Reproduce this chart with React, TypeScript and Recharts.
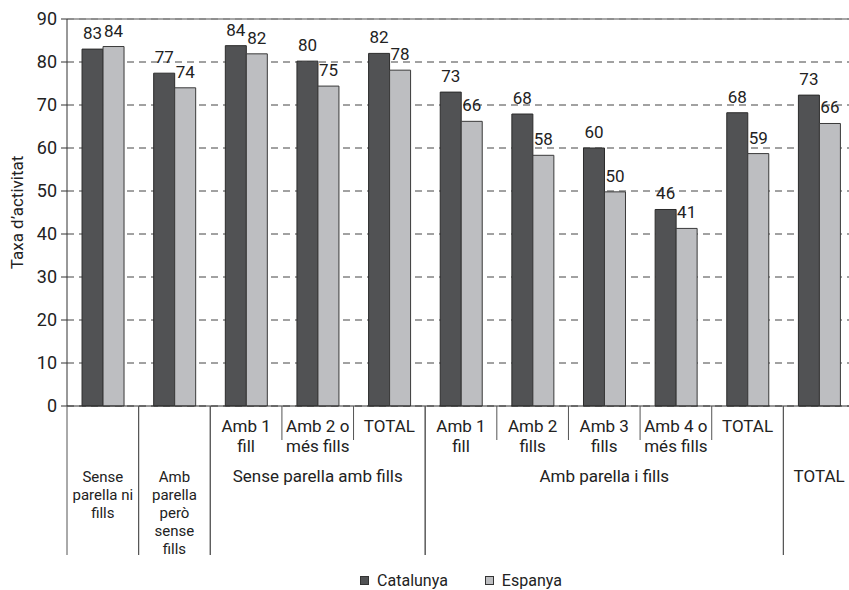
import {
  Bar,
  BarChart,
  CartesianGrid,
  LabelList,
  Legend,
  ReferenceLine,
  XAxis,
  YAxis,
} from "recharts";

const groupNames = [
  ["Sense", "parella ni", "fills"],
  ["Amb", "parella", "però", "sense", "fills"],
  ["Sense parella amb fills"],
  ["Amb parella i fills"],
  ["TOTAL"],
];
const groupSizes = [1, 1, 3, 5, 1];
const subLabels = [
  [],
  [],
  ["Amb 1", "fill"],
  ["Amb 2 o", "més fills"],
  ["TOTAL"],
  ["Amb 1", "fill"],
  ["Amb 2", "fills"],
  ["Amb 3", "fills"],
  ["Amb 4 o", "més fills"],
  ["TOTAL"],
  [],
];
const catalunya = [83.0, 77.4, 83.8, 80.2, 82.0, 73.0, 67.9, 60.0, 45.7, 68.2, 72.3];
const espanya = [83.6, 74.0, 81.9, 74.4, 78.1, 66.2, 58.3, 49.8, 41.3, 58.7, 65.7];
const catalunyaLabels = ["83", "77", "84", "80", "82", "73", "68", "60", "46", "68", "73"];
const espanyaLabels = ["84", "74", "82", "75", "78", "66", "58", "50", "41", "59", "66"];
const yTicks = [0, 10, 20, 30, 40, 50, 60, 70, 80, 90];
const seriesNames = ["Catalunya", "Espanya"];
const seriesColors = ["#515254", "#bdbec1"];

const FONT = "Roboto, 'Liberation Sans', Arial, sans-serif";
const CHART_W = 870;
const CHART_H = 590;
const MARGIN = { top: 19, right: 15, left: 0, bottom: 0 };
const Y_AXIS_W = 67;
const HALF_BAND = (CHART_W - MARGIN.left - MARGIN.right - Y_AXIS_W) / subLabels.length / 2;

const data = subLabels.map((_, i) => ({
  id: String(i),
  catalunya: catalunya[i],
  espanya: espanya[i],
  catLabel: catalunyaLabels[i],
  espLabel: espanyaLabels[i],
}));

const groupOf = groupSizes.flatMap((n, g) => Array(n).fill(g));
const groupStart = groupSizes.map((_, g) =>
  groupSizes.slice(0, g).reduce((a, b) => a + b, 0)
);

function CategoryTick(props: any) {
  const { x, y, index } = props;
  const g = groupOf[index];
  const start = groupStart[g];
  const end = start + groupSizes[g] - 1;
  const mid = start + (groupSizes[g] - 1) / 2;
  const stacked = groupNames[g].length > 1;
  const line = "#555";
  return (
    <g fontFamily={FONT} fontSize={17} fill="#222">
      {index === start && (
        <line x1={x - HALF_BAND} x2={x - HALF_BAND} y1={y} y2={y + 149} stroke={line} />
      )}
      {index === end && (
        <line x1={x + HALF_BAND} x2={x + HALF_BAND} y1={y} y2={y + 149} stroke={line} />
      )}
      {index < end && (
        <line x1={x + HALF_BAND} x2={x + HALF_BAND} y1={y} y2={y + 34} stroke={line} />
      )}
      {subLabels[index].map((t, k) => (
        <text key={"s" + k} x={x} y={y + 26 + k * 20} textAnchor="middle">
          {t}
        </text>
      ))}
      {index === mid &&
        groupNames[g].map((t, k) => (
          <text
            key={"g" + k}
            x={x}
            y={y + 76 + k * 18}
            textAnchor="middle"
            fontSize={stacked ? 15 : 17}
          >
            {t}
          </text>
        ))}
    </g>
  );
}

function LegendContent() {
  return (
    <div
      style={{
        width: CHART_W,
        height: 34,
        display: "flex",
        justifyContent: "center",
        paddingTop: 15,
        paddingLeft: Y_AXIS_W + MARGIN.left,
        paddingRight: MARGIN.right,
        boxSizing: "border-box",
        fontFamily: FONT,
        fontSize: 16,
        color: "#222",
        lineHeight: "20px",
      }}
    >
      {seriesNames.map((name, i) => (
        <span
          key={name}
          style={{ display: "flex", alignItems: "center", marginRight: i === 0 ? 37 : 0 }}
        >
          <span
            style={{
              display: "inline-block",
              width: 7,
              height: 7,
              background: seriesColors[i],
              border: "1px solid #333",
              marginRight: 8,
            }}
          />
          {name}
        </span>
      ))}
    </div>
  );
}

export default function App() {
  return (
    <div
      style={{
        position: "absolute",
        left: 0,
        top: 0,
        width: 849,
        height: 590,
        overflow: "hidden",
        background: "#fff",
      }}
    >
      <BarChart
        width={CHART_W}
        height={CHART_H}
        data={data}
        margin={MARGIN}
        barGap={0}
        barCategoryGap="21%"
      >
        <CartesianGrid vertical={false} strokeDasharray="7 5" stroke="#444" />
        <ReferenceLine y={90} stroke="#8a8a8a" strokeWidth={1.5} />
        <XAxis
          dataKey="id"
          interval={0}
          height={150}
          tickSize={0}
          tickMargin={0}
          tickLine={false}
          axisLine={{ stroke: "#333" }}
          tick={CategoryTick}
        />
        <YAxis
          width={Y_AXIS_W}
          domain={[0, 90]}
          ticks={yTicks}
          interval={0}
          tickSize={6}
          tickMargin={4}
          axisLine={{ stroke: "#333" }}
          tickLine={{ stroke: "#333" }}
          tick={{ fontFamily: FONT, fontSize: 18, fill: "#222" }}
          label={{
            value: "Taxa d’activitat",
            angle: -90,
            position: "insideLeft",
            offset: 17,
            style: { textAnchor: "middle", fontFamily: FONT, fontSize: 17, fill: "#222" },
          }}
        />
        <Legend verticalAlign="bottom" height={34} content={LegendContent} />
        <Bar
          dataKey="catalunya"
          name={seriesNames[0]}
          fill={seriesColors[0]}
          stroke="#2b2b2b"
          isAnimationActive={false}
        >
          <LabelList
            dataKey="catLabel"
            position="top"
            offset={10}
            style={{ fontFamily: FONT, fontSize: 17, fill: "#222" }}
          />
        </Bar>
        <Bar
          dataKey="espanya"
          name={seriesNames[1]}
          fill={seriesColors[1]}
          stroke="#3a3a3a"
          isAnimationActive={false}
        >
          <LabelList
            dataKey="espLabel"
            position="top"
            offset={10}
            style={{ fontFamily: FONT, fontSize: 17, fill: "#222" }}
          />
        </Bar>
      </BarChart>
    </div>
  );
}
